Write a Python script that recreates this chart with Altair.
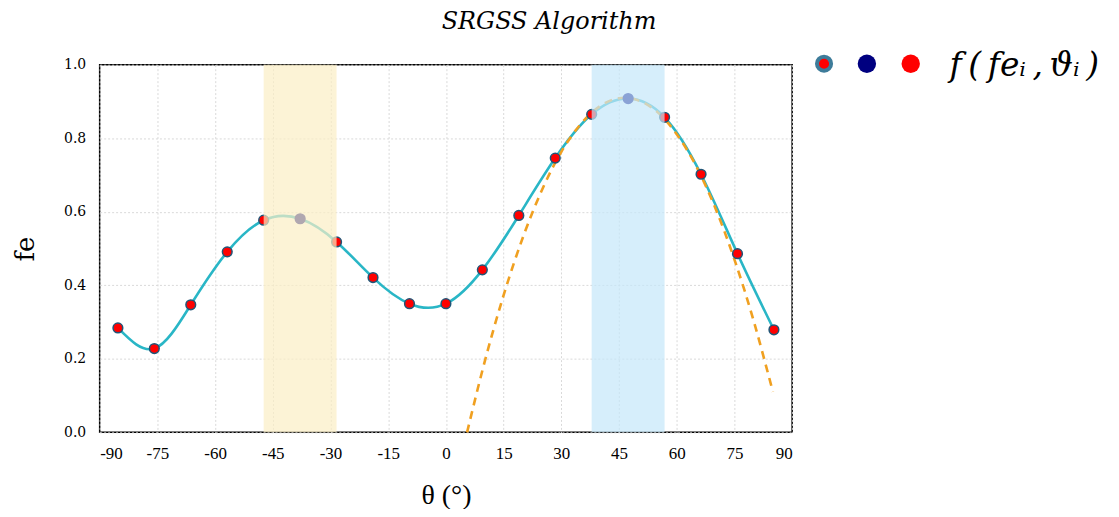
import altair as alt
import pandas as pd

# sample angles (deg) and fitness values
theta = [-85.26, -75.79, -66.32, -56.84, -47.37, -37.89, -28.42, -18.95, -9.47, 0.0,
         9.47, 18.95, 28.42, 37.89, 47.37, 56.84, 66.32, 75.79, 85.26]
fe = [0.284, 0.228, 0.347, 0.491, 0.577, 0.581, 0.518, 0.421, 0.350, 0.350,
      0.442, 0.590, 0.746, 0.865, 0.908, 0.857, 0.702, 0.486, 0.279]
kind = ["sample"] * 19
kind[5] = "best"
kind[14] = "best"

# dashed fitted curve
fit_theta = [5.5, 10, 15, 20, 25, 30, 35, 40, 45, 50, 55, 60, 65, 70, 75, 80, 85]
fit_fe = [0.0, 0.189, 0.373, 0.530, 0.660, 0.763, 0.838, 0.887, 0.909, 0.903,
          0.871, 0.811, 0.725, 0.611, 0.470, 0.303, 0.110]

# shaded bands
band_start = [-47.37, 37.89]
band_end = [-28.42, 56.84]
band_name = ["left", "right"]
band_color = ["#FBEEC4", "#C4E7F9"]

title_text = "SRGSS Algorithm"
legend_text = "f\u2009(\u2009fe\u1D62\u2009,\u2009\u03D1\u1D62\u2009)"

pts = pd.DataFrame({"theta": theta, "fe": fe, "kind": kind})
fit = pd.DataFrame({"theta": fit_theta, "fe": fit_fe})
bands = pd.DataFrame({"start": band_start, "end": band_end, "name": band_name})

W, H = 695, 369

xs = alt.Scale(domain=[-90, 90], nice=False, zero=False)
ys = alt.Scale(domain=[0, 1], nice=False)

xax = alt.Axis(values=list(range(-90, 91, 15)), title="θ (°)", labelExpr="'' + datum.value")
yax = alt.Axis(values=[0, 0.2, 0.4, 0.6, 0.8, 1.0], format=".1f", title="fe")

line = alt.Chart(pts).mark_line(interpolate="natural", color="#29B6C6", strokeWidth=2.6).encode(
    x=alt.X("theta:Q", scale=xs, axis=xax),
    y=alt.Y("fe:Q", scale=ys, axis=yax),
)

dashed = alt.Chart(fit).mark_line(interpolate="natural", color="#F0A020", strokeWidth=2.6,
                                  strokeDash=[8, 6]).encode(
    x=alt.X("theta:Q", scale=xs),
    y=alt.Y("fe:Q", scale=ys),
)

points = alt.Chart(pts).mark_point(filled=True, size=95, strokeWidth=1.5, opacity=1).encode(
    x=alt.X("theta:Q", scale=xs),
    y=alt.Y("fe:Q", scale=ys),
    fill=alt.Fill("kind:N", scale=alt.Scale(domain=["sample", "best"], range=["#FF0000", "#000080"]), legend=None),
    stroke=alt.Stroke("kind:N", scale=alt.Scale(domain=["sample", "best"], range=["#1F5577", "#000080"]), legend=None),
)

rects = alt.Chart(bands).mark_rect(opacity=0.7).encode(
    x=alt.X("start:Q", scale=xs),
    x2="end:Q",
    y=alt.datum(0),
    y2=alt.datum(1),
    color=alt.Color("name:N", scale=alt.Scale(domain=band_name, range=band_color), legend=None),
)

# custom legend and title
leg_df = pd.DataFrame({"k": ["a"]})
leg1 = alt.Chart(leg_df).mark_point(filled=True, size=200, fill="#FF0000", stroke="#3E7C9A",
                                    strokeWidth=4, opacity=1).encode(x=alt.value(727), y=alt.value(-1))
leg2 = alt.Chart(leg_df).mark_point(filled=True, size=340, fill="#000080", opacity=1).encode(
    x=alt.value(770), y=alt.value(-1))
leg3 = alt.Chart(leg_df).mark_point(filled=True, size=340, fill="#FF0000", opacity=1).encode(
    x=alt.value(814), y=alt.value(-1))
legtxt = alt.Chart(leg_df).mark_text(text=legend_text,
                                     font="DejaVu Serif", fontStyle="italic",
                                     fontSize=33, align="left", baseline="middle", color="black").encode(
    x=alt.value(853), y=alt.value(1))
titletxt = alt.Chart(leg_df).mark_text(text=title_text, font="DejaVu Serif", fontStyle="italic",
                                       fontSize=24, align="center", baseline="alphabetic",
                                       color="black").encode(x=alt.value(451), y=alt.value(-36))

chart = alt.layer(line, dashed, points, rects, leg1, leg2, leg3, legtxt, titletxt).properties(
    width=W, height=H,
    autosize=alt.AutoSizeParams(type="none"),
    padding={"left": 92, "top": 56, "right": 320, "bottom": 76},
).configure_view(
    stroke="black", strokeWidth=1.5
).configure_axis(
    grid=True, gridColor="#D9D9D9", gridDash=[2, 2], gridWidth=1,
    ticks=False, domain=False, labelColor="black", titleColor="black", titleFontWeight="normal",
).configure_axisX(
    labelFont="Liberation Serif", labelFontSize=17, labelPadding=13,
    titleFont="Liberation Serif", titleFontSize=28, titlePadding=20,
).configure_axisY(
    labelFont="DejaVu Serif", labelFontSize=14, labelPadding=14,
    titleFont="DejaVu Serif", titleFontSize=26, titlePadding=25,
)

chart.save("out.html", embed_options={"renderer": "svg", "actions": False})
